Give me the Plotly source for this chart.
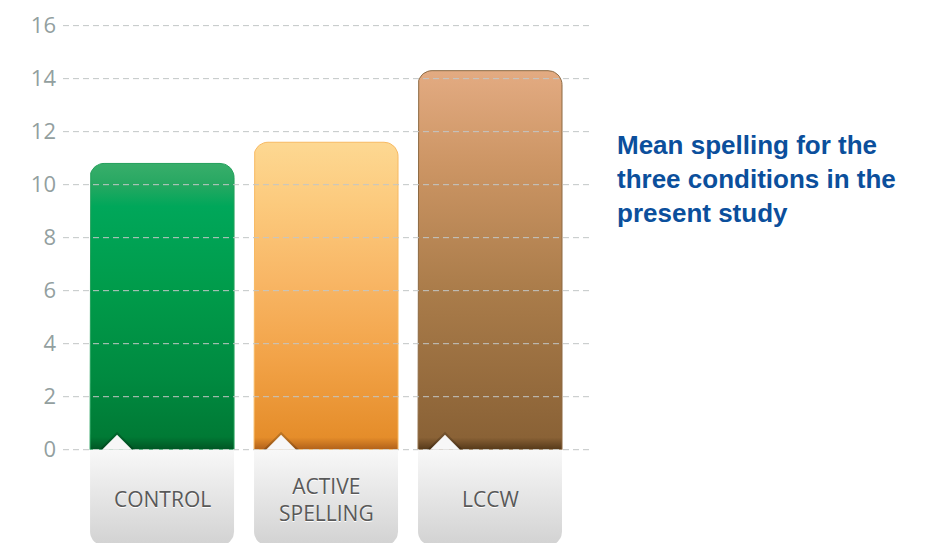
import plotly.graph_objects as go

# ---- data -------------------------------------------------------------
categories = ["CONTROL", "ACTIVE<br>SPELLING", "LCCW"]
mean_spelling = [10.8, 11.6, 14.3]
tick_values = [0, 2, 4, 6, 8, 10, 12, 14, 16]
tick_labels = ["0", "2", "4", "6", "8", "10", "12", "14", "16"]
title_lines = ["Mean spelling for the", "three conditions in the", "present study"]

# ---- styling ----------------------------------------------------------
bar_scales = [
    [[0.0, "#005524"], [0.045, "#007a35"], [0.25, "#008a40"], [0.55, "#009b4a"],
     [0.85, "#00a75a"], [0.93, "#28a862"], [1.0, "#38ae6b"]],
    [[0.0, "#b0601a"], [0.04, "#e58d2a"], [0.3, "#f2a348"], [0.55, "#f8b665"],
     [0.8, "#fcca7d"], [1.0, "#fdd892"]],
    [[0.0, "#543819"], [0.032, "#8a6236"], [0.42, "#aa7c4a"], [0.75, "#cc9564"],
     [1.0, "#e3ab82"]],
]
bar_edges = ["#23a05b", "#f7b962", "#8c6942"]
box_scale = [[0.0, "#d2d2d2"], [1.0, "#f8f8f8"]]

X_RANGE = [-0.604, 2.628]
Y_RANGE = [-3.52, 16.25]
BAR_W = 0.878
BOX_BOTTOM = -3.62
PX_X = 164.0   # pixels per x unit
PX_Y = 26.5    # pixels per y unit
R_PX = 14
TOP_M = 19


def rounded_top(x0, x1, y0, y1, rx, ry, n=10):
    import math
    xs, ys = [x0], [y0]
    for i in range(n + 1):
        a = math.pi - (math.pi / 2) * i / n
        xs.append(x0 + rx + rx * math.cos(a))
        ys.append(y1 - ry + ry * math.sin(a))
    for i in range(n + 1):
        a = math.pi / 2 - (math.pi / 2) * i / n
        xs.append(x1 - rx + rx * math.cos(a))
        ys.append(y1 - ry + ry * math.sin(a))
    xs += [x1, x0]
    ys += [y0, y0]
    return xs, ys


def rounded_bottom(x0, x1, y0, y1, rx, ry, n=10):
    import math
    xs, ys = [x0, x1], [y1, y1]
    for i in range(n + 1):
        a = 0 - (math.pi / 2) * i / n
        xs.append(x1 - rx + rx * math.cos(a))
        ys.append(y0 + ry + ry * math.sin(a))
    for i in range(n + 1):
        a = -math.pi / 2 - (math.pi / 2) * i / n
        xs.append(x0 + rx + rx * math.cos(a))
        ys.append(y0 + ry + ry * math.sin(a))
    xs.append(x0)
    ys.append(y1)
    return xs, ys


fig = go.Figure()
rx = R_PX / PX_X
ry = R_PX / PX_Y

# bars with vertical gradient
for i, (cat, val) in enumerate(zip(categories, mean_spelling)):
    x0, x1 = i - BAR_W / 2, i + BAR_W / 2
    xs, ys = rounded_top(x0, x1, 0, val, rx, ry)
    fig.add_trace(go.Scatter(
        x=xs, y=ys, mode="lines", fill="toself",
        line=dict(color=bar_edges[i], width=1),
        fillgradient=dict(type="vertical", colorscale=bar_scales[i]),
        name=cat.replace("<br>", " "), hoverinfo="skip", showlegend=False,
    ))

# dashed grid drawn over the bars
gx, gy = [], []
for t in tick_values:
    gx += [X_RANGE[0], X_RANGE[1], None]
    gy += [t, t, None]
fig.add_trace(go.Scatter(
    x=gx, y=gy, mode="lines",
    line=dict(color="#c2c6c6", width=1, dash="6px,4px"),
    hoverinfo="skip", showlegend=False,
))

# label plates under each bar, with a small pointer notch
for i, cat in enumerate(categories):
    x0, x1 = i - BAR_W / 2, i + BAR_W / 2
    xs, ys = rounded_bottom(x0, x1, BOX_BOTTOM, 0, rx, ry)
    fig.add_trace(go.Scatter(
        x=xs, y=ys, mode="lines", fill="toself",
        line=dict(color="rgba(0,0,0,0)", width=0),
        fillgradient=dict(type="vertical", colorscale=box_scale),
        hoverinfo="skip", showlegend=False,
    ))
    bl = x0 + 12 / PX_X
    br = x0 + 42 / PX_X
    ap = x0 + 27 / PX_X
    h = 15 / PX_Y
    sx = 3 / PX_X
    fig.add_trace(go.Scatter(
        x=[bl - sx, ap, br + sx, bl - sx], y=[0, h + 3 / PX_Y, 0, 0],
        mode="lines", fill="toself", line=dict(width=0, color="rgba(0,0,0,0)"),
        fillcolor="rgba(0,0,0,0.18)", hoverinfo="skip", showlegend=False,
    ))
    fig.add_trace(go.Scatter(
        x=[bl, ap, br, bl], y=[0, h, 0, 0],
        mode="lines", fill="toself", line=dict(width=0, color="#f7f7f7"),
        fillcolor="#f7f7f7", hoverinfo="skip", showlegend=False,
    ))
    fig.add_annotation(
        x=i, y=-1.86, xref="x", yref="y", text=cat, showarrow=False,
        font=dict(family="Open Sans", size=21, color="#595959",
                  shadow="0px 1px 0px #ffffff"),
    )

# side title
plot_h = 543 - TOP_M
for k, line in enumerate(title_lines):
    y_px = 145 + 34 * k
    fig.add_annotation(
        x=(615 - 63) / 530, y=(543 - y_px) / plot_h, xref="paper", yref="paper",
        xanchor="left", yanchor="middle", text=line, showarrow=False,
        font=dict(family="Liberation Sans, Arial", size=26, color="#0b4f9c",
                  weight="bold"),
    )

fig.update_layout(
    width=930, height=543,
    margin=dict(l=63, r=337, t=TOP_M, b=0),
    paper_bgcolor="#ffffff", plot_bgcolor="#ffffff",
    showlegend=False,
    xaxis=dict(range=X_RANGE, visible=False, fixedrange=True),
    yaxis=dict(
        range=Y_RANGE, tickvals=tick_values, ticktext=tick_labels,
        showgrid=False, zeroline=False, showline=False, ticks="",
        ticklabelstandoff=6,
        tickfont=dict(family="Open Sans", size=22, color="#939f9f"),
        fixedrange=True,
    ),
)

fig.write_html("out.html")
